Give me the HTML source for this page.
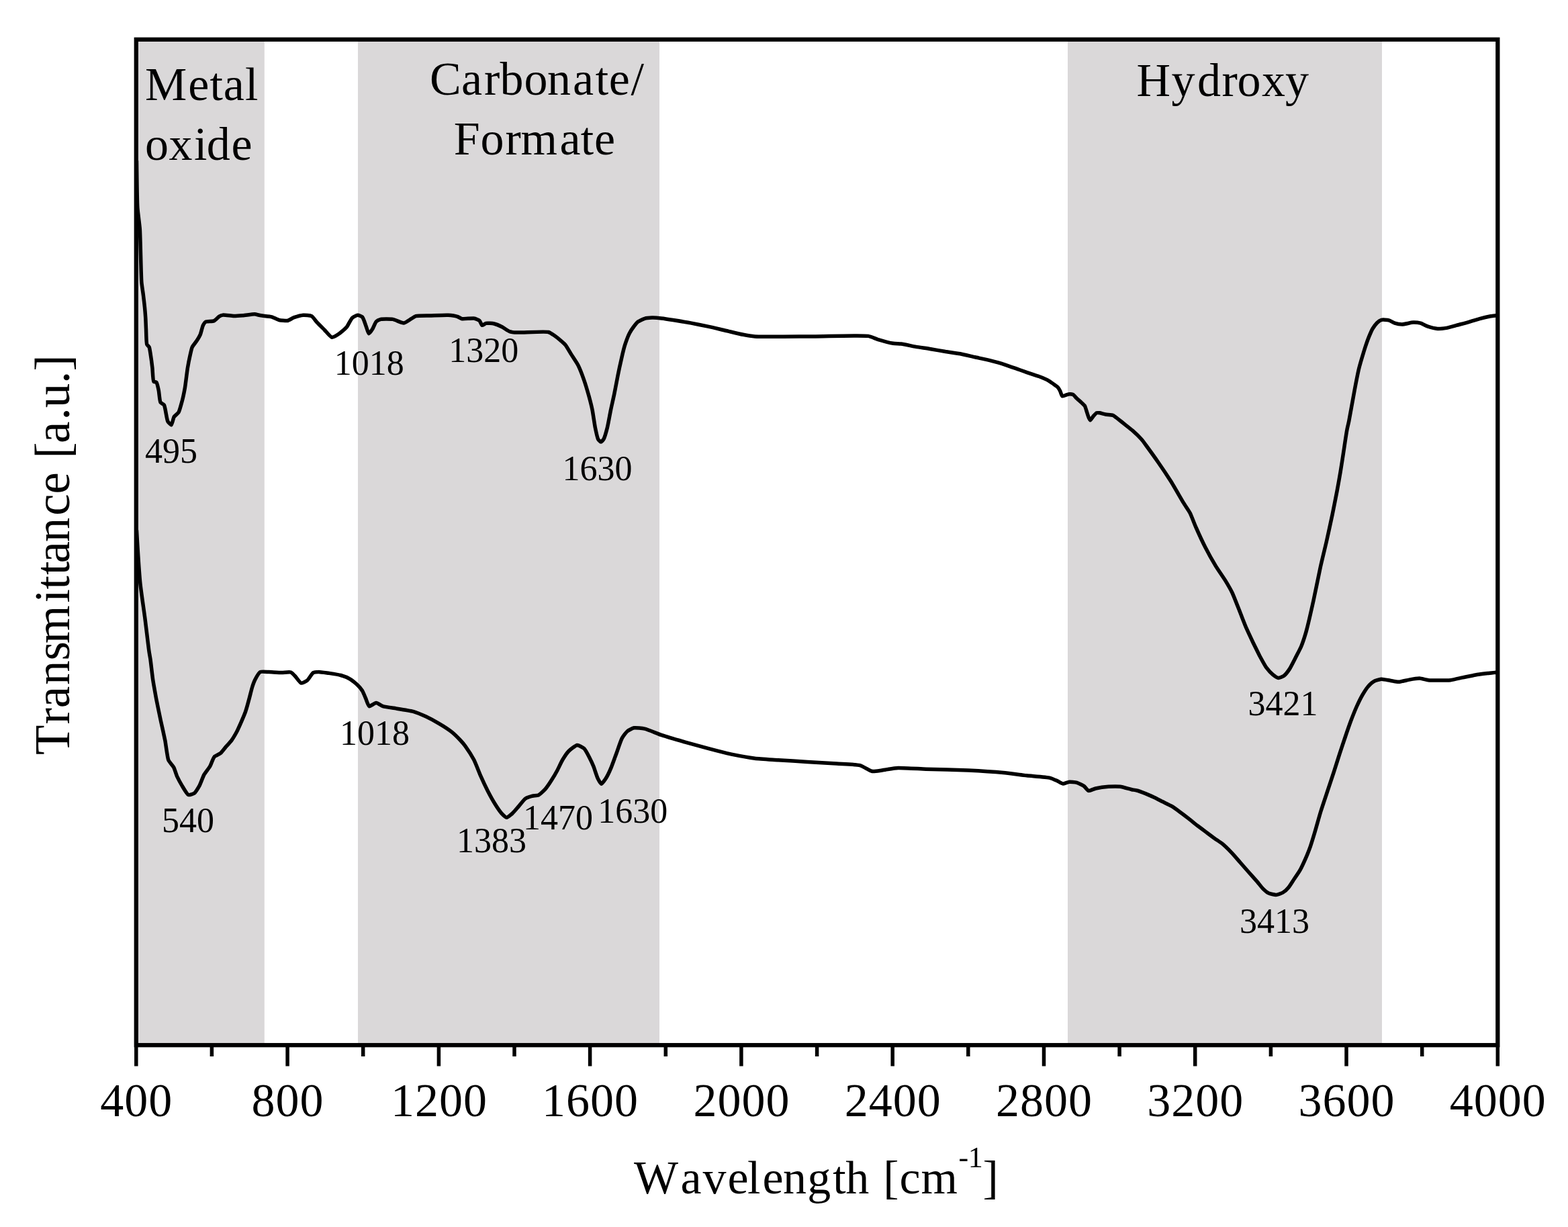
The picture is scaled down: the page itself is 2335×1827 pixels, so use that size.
<!DOCTYPE html>
<html><head><meta charset="utf-8"><title>FTIR spectra</title>
<style>html,body{margin:0;padding:0;background:#fff;width:2335px;height:1827px;overflow:hidden}svg{display:block}</style>
</head><body>
<svg xmlns="http://www.w3.org/2000/svg" width="2335" height="1827" viewBox="0 0 2335 1827">
<rect width="2335" height="1827" fill="#fff"/>
<rect x="206.0" y="58.8" width="187.8" height="1497.4" fill="#dad8d9"/>
<rect x="533.0" y="58.8" width="449.0" height="1497.4" fill="#dad8d9"/>
<rect x="1590.0" y="58.8" width="468.0" height="1497.4" fill="#dad8d9"/>
<path d="M202.8,1556.2V1587.5M315.4,1556.2V1573.0M428.1,1556.2V1587.5M540.7,1556.2V1573.0M653.4,1556.2V1587.5M766.0,1556.2V1573.0M878.6,1556.2V1587.5M991.3,1556.2V1573.0M1103.9,1556.2V1587.5M1216.6,1556.2V1573.0M1329.2,1556.2V1587.5M1441.8,1556.2V1573.0M1554.5,1556.2V1587.5M1667.1,1556.2V1573.0M1779.7,1556.2V1587.5M1892.4,1556.2V1573.0M2005.0,1556.2V1587.5M2117.7,1556.2V1573.0M2230.3,1556.2V1587.5" stroke="#000" stroke-width="5.5" fill="none"/>
<path d="M203.5,240.0 C203.7,252.7 204.1,298.8 204.8,309.0 C205.2,316.0 207.8,333.8 208.3,341.0 C209.1,352.3 210.0,410.3 210.8,420.0 C211.2,424.9 213.1,436.6 213.5,440.2 C213.9,443.5 215.2,454.6 215.5,457.7 C215.8,460.7 216.6,470.9 216.8,473.9 C217.0,476.9 217.3,486.8 217.5,490.0 C217.7,493.8 217.8,510.5 218.8,512.9 C219.3,514.0 221.7,515.9 222.2,516.9 C222.9,518.3 223.8,525.4 224.2,527.7 C224.7,530.8 226.5,544.2 226.9,547.9 C227.3,551.6 227.7,566.6 228.9,568.1 C229.5,568.8 232.4,568.8 233.0,569.4 C234.0,570.5 235.8,579.1 236.3,581.5 C236.9,584.4 237.8,597.1 239.0,599.1 C239.7,600.3 243.6,601.8 244.4,603.1 C246.0,605.5 248.3,624.6 249.8,627.3 C250.6,628.8 254.4,632.9 255.2,632.7 C256.2,632.5 258.1,622.4 259.2,620.6 C260.2,619.1 265.0,615.6 266.0,613.9 C267.4,611.6 270.5,599.7 271.4,596.4 C272.3,593.0 274.7,581.4 275.4,577.5 C276.2,572.7 278.6,552.6 279.4,547.9 C280.0,544.3 282.1,533.4 282.8,530.4 C283.4,527.8 285.2,519.1 286.2,516.9 C287.1,514.9 291.8,509.3 292.9,507.5 C294.0,505.8 297.5,500.0 298.3,498.1 C299.2,495.9 301.4,486.5 302.3,484.6 C303.0,483.3 305.3,479.8 306.4,479.2 C307.9,478.3 316.6,478.7 318.5,477.9 C320.2,477.2 325.1,472.0 326.5,471.2 C327.5,470.6 330.6,469.3 331.9,469.1 C334.0,468.8 345.3,470.5 348.1,470.5 C350.7,470.5 359.0,470.0 361.6,469.8 C364.6,469.6 376.4,467.7 379.1,467.8 C381.1,467.9 386.5,469.5 388.5,469.8 C391.0,470.2 402.0,471.1 404.6,471.8 C406.8,472.4 413.3,476.0 415.4,476.5 C417.6,477.0 426.1,477.9 428.2,477.5 C430.2,477.1 435.9,473.4 437.9,472.7 C440.2,471.9 449.1,469.4 451.6,469.2 C453.9,469.0 462.1,469.6 464.0,470.6 C465.9,471.6 470.5,478.4 472.2,480.2 C474.0,482.2 481.2,489.2 483.2,491.2 C485.2,493.2 492.1,501.9 494.2,502.2 C496.1,502.5 503.3,498.0 505.2,496.7 C507.3,495.3 514.5,489.2 516.2,487.1 C518.0,484.9 522.6,475.1 524.4,473.4 C525.8,472.1 531.2,469.3 532.7,469.2 C534.0,469.1 538.6,471.0 539.6,472.0 C541.1,473.5 544.2,483.3 545.1,485.7 C545.9,487.8 548.2,496.5 549.2,496.7 C550.0,496.8 553.8,491.4 554.7,489.9 C555.8,488.2 558.9,480.2 560.2,478.9 C561.2,477.8 565.4,475.8 567.0,475.4 C569.5,474.8 581.7,474.9 584.9,475.4 C588.0,475.9 598.7,481.2 601.4,480.9 C603.7,480.7 610.6,475.7 612.4,474.7 C613.8,473.9 617.6,471.1 619.3,470.6 C622.0,469.8 635.9,470.0 639.9,469.9 C644.6,469.8 663.2,468.9 667.4,469.2 C670.4,469.4 679.1,470.7 681.1,471.3 C682.6,471.8 686.4,474.4 688.0,474.7 C690.5,475.2 703.2,473.5 705.8,474.0 C707.7,474.3 713.0,476.5 714.1,477.5 C715.1,478.4 717.0,484.1 717.9,484.4 C718.8,484.7 722.5,481.7 723.8,481.4 C725.6,481.0 733.6,481.5 735.7,482.0 C737.9,482.5 745.5,485.7 747.6,486.8 C749.8,487.9 757.3,493.2 759.6,493.9 C761.7,494.6 768.6,495.0 771.5,495.1 C777.1,495.3 811.8,493.2 816.7,494.5 C819.0,495.1 823.5,498.2 825.1,499.3 C827.1,500.7 835.3,507.3 837.0,508.8 C838.2,509.8 841.1,512.5 842.1,513.7 C843.6,515.5 848.9,524.8 850.5,527.4 C852.3,530.3 859.4,540.9 861.1,544.2 C862.9,547.8 868.1,561.3 869.5,565.3 C871.0,569.6 875.7,585.2 876.9,589.5 C878.0,593.5 881.3,606.5 882.1,610.6 C883.0,615.2 885.5,632.7 886.4,637.0 C887.1,640.4 889.5,651.8 890.6,653.8 C891.3,655.0 894.0,658.0 894.8,658.0 C895.6,658.0 898.3,654.9 899.0,653.8 C900.2,651.8 903.4,640.5 904.3,637.0 C905.4,632.7 908.5,615.3 909.5,610.6 C910.4,606.1 913.9,591.0 914.8,586.4 C915.8,581.5 919.1,563.9 920.1,559.0 C921.0,554.4 924.3,539.1 925.3,534.8 C926.2,530.8 929.4,517.4 930.6,513.7 C931.7,510.3 936.1,498.7 937.5,496.0 C938.6,493.8 942.8,487.6 944.0,486.0 C945.1,484.6 948.7,480.1 950.1,479.1 C951.6,478.0 958.1,474.8 960.0,474.3 C961.9,473.8 968.8,473.2 970.9,473.1 C973.3,473.0 982.1,473.6 984.8,473.9 C987.8,474.2 998.7,475.9 1002.2,476.5 C1006.5,477.2 1023.5,480.0 1028.3,480.9 C1033.1,481.8 1049.6,485.1 1054.4,486.1 C1059.2,487.1 1075.7,491.1 1080.5,492.2 C1085.3,493.3 1102.4,497.5 1106.7,498.3 C1110.2,499.0 1119.7,500.6 1124.1,500.9 C1133.9,501.6 1195.4,500.9 1211.1,500.9 C1226.3,500.9 1284.2,498.9 1292.9,500.4 C1296.6,501.0 1303.9,504.4 1306.8,505.3 C1310.5,506.4 1326.4,510.7 1330.0,511.3 C1332.5,511.7 1339.5,511.7 1342.0,512.0 C1345.4,512.4 1360.0,515.7 1364.0,516.4 C1368.0,517.1 1382.0,519.0 1386.0,519.7 C1390.0,520.4 1404.0,522.8 1408.0,523.5 C1412.0,524.1 1425.9,526.0 1429.9,526.8 C1433.9,527.6 1447.9,530.9 1451.9,531.8 C1455.9,532.7 1469.9,535.7 1473.9,536.7 C1477.9,537.7 1491.9,541.5 1495.9,542.8 C1500.0,544.1 1513.9,549.1 1517.9,550.5 C1521.9,551.9 1536.9,557.2 1539.9,558.2 C1541.6,558.8 1546.0,560.0 1547.3,560.5 C1548.7,561.0 1553.4,562.9 1554.7,563.5 C1556.1,564.1 1560.7,566.3 1562.0,567.1 C1563.4,567.9 1568.0,571.3 1569.3,572.2 C1570.4,573.0 1574.3,575.6 1575.2,576.6 C1576.1,577.5 1578.2,581.3 1578.8,582.5 C1579.4,583.7 1580.9,589.4 1581.8,589.8 C1582.5,590.2 1586.0,588.7 1586.9,588.4 C1587.7,588.1 1590.4,587.0 1591.3,586.9 C1592.4,586.8 1596.8,587.1 1597.9,587.6 C1599.0,588.1 1602.0,591.8 1603.0,592.8 C1604.1,593.9 1608.4,597.5 1609.6,598.6 C1610.7,599.7 1614.7,603.2 1615.5,604.5 C1616.3,605.9 1617.9,611.7 1618.4,613.3 C1618.9,614.9 1620.8,620.9 1621.4,622.1 C1621.8,622.9 1623.1,625.8 1623.6,625.8 C1624.2,625.8 1627.1,620.9 1628.0,619.9 C1628.9,618.9 1632.1,615.2 1633.1,614.8 C1633.9,614.5 1636.6,614.7 1637.5,614.8 C1638.8,615.0 1644.6,616.7 1646.3,617.0 C1648.2,617.4 1655.6,617.7 1657.3,618.4 C1658.9,619.0 1663.1,622.5 1664.6,623.6 C1666.4,625.0 1673.6,630.7 1675.6,632.3 C1677.6,633.9 1684.5,639.3 1686.6,641.1 C1689.0,643.2 1698.1,652.1 1700.0,654.3 C1701.4,655.9 1704.8,660.6 1706.2,662.5 C1708.7,665.9 1721.6,683.8 1725.0,688.7 C1728.5,693.7 1740.3,711.4 1743.7,716.8 C1747.2,722.4 1759.5,743.9 1762.4,748.7 C1764.4,752.0 1770.6,760.9 1772.2,764.0 C1774.0,767.5 1779.2,781.3 1781.1,785.5 C1783.3,790.5 1792.1,809.5 1794.8,814.8 C1797.5,820.1 1807.7,838.4 1810.6,843.2 C1813.3,847.6 1823.0,861.6 1825.3,865.4 C1827.3,868.7 1833.2,878.9 1834.9,882.5 C1837.1,887.0 1844.4,906.1 1846.4,911.1 C1848.3,915.8 1854.3,931.4 1856.2,935.7 C1858.0,939.8 1864.3,953.2 1866.1,957.0 C1867.9,960.7 1874.1,973.2 1875.9,976.7 C1877.7,980.0 1883.7,991.2 1885.7,993.9 C1887.4,996.2 1893.8,1003.1 1895.6,1004.6 C1897.1,1005.8 1902.3,1009.4 1903.8,1009.5 C1905.3,1009.6 1910.6,1007.2 1912.0,1006.2 C1913.7,1005.0 1918.8,998.5 1920.2,996.4 C1921.8,994.0 1926.9,983.9 1928.4,981.0 C1930.0,977.8 1936.1,966.2 1937.5,963.0 C1938.7,960.2 1941.9,950.9 1942.7,948.4 C1943.4,946.2 1945.3,939.8 1946.0,937.0 C1947.4,931.7 1954.0,903.1 1955.8,895.0 C1957.8,886.1 1964.5,852.6 1966.4,844.0 C1968.0,836.7 1973.6,813.9 1975.2,807.0 C1976.8,799.8 1982.5,773.8 1984.0,766.6 C1985.4,759.9 1989.8,737.6 1991.0,731.4 C1992.1,725.7 1995.4,707.1 1996.3,701.5 C1997.3,695.6 2000.6,674.0 2001.5,668.1 C2002.3,662.7 2005.1,644.1 2005.9,640.0 C2006.4,637.2 2008.1,630.4 2008.7,627.4 C2009.8,622.0 2014.8,593.6 2016.2,586.2 C2017.5,579.2 2022.1,555.3 2023.7,548.7 C2025.2,542.6 2031.5,521.8 2033.0,517.0 C2034.1,513.7 2037.4,504.2 2038.5,501.6 C2039.5,499.2 2042.8,491.5 2044.0,489.5 C2045.1,487.7 2049.3,482.0 2050.6,480.7 C2051.7,479.6 2055.8,476.7 2057.2,476.3 C2058.9,475.8 2066.3,476.3 2068.2,476.8 C2070.0,477.3 2075.2,480.6 2077.0,481.2 C2078.9,481.8 2085.8,482.9 2088.0,482.9 C2090.7,482.9 2101.7,480.2 2104.4,480.1 C2106.6,480.0 2113.4,480.7 2115.4,481.2 C2117.5,481.8 2124.2,485.5 2126.4,486.2 C2128.8,487.0 2138.1,489.3 2140.7,489.5 C2143.2,489.7 2151.4,488.8 2153.9,488.4 C2156.8,487.9 2167.4,484.8 2170.4,484.0 C2173.4,483.2 2183.9,480.5 2186.9,479.6 C2189.9,478.7 2200.4,475.4 2203.4,474.6 C2206.4,473.8 2217.3,471.3 2219.9,470.8 C2221.8,470.5 2227.1,469.9 2228.7,469.7" stroke="#000" stroke-width="5.5" fill="none" stroke-linejoin="round" stroke-linecap="round"/>
<path d="M203.5,790.0 C203.8,795.2 204.8,812.6 205.2,818.6 C205.7,826.7 208.0,860.7 209.0,870.1 C210.0,879.6 214.8,912.3 216.0,921.6 C217.2,930.6 221.1,964.1 222.0,970.0 C222.4,972.9 223.6,979.3 224.0,982.0 C224.6,986.3 226.9,1006.7 227.7,1012.2 C228.5,1017.7 231.9,1036.3 232.9,1041.8 C234.0,1047.4 238.1,1067.1 239.3,1072.7 C240.5,1078.2 244.7,1096.9 245.8,1102.3 C246.9,1107.7 249.2,1128.1 250.9,1132.0 C252.0,1134.5 257.4,1140.2 258.6,1142.3 C259.9,1144.6 262.6,1153.9 263.8,1156.4 C265.0,1159.0 270.0,1168.1 271.5,1170.6 C273.0,1173.1 278.6,1182.8 280.5,1183.5 C282.0,1184.0 288.1,1181.9 289.5,1180.9 C291.3,1179.6 296.0,1171.6 297.3,1169.3 C298.7,1166.7 302.3,1156.5 303.7,1153.9 C305.1,1151.3 311.3,1143.5 312.7,1141.0 C314.1,1138.5 317.5,1128.6 319.2,1126.8 C320.5,1125.3 326.7,1122.9 328.2,1121.7 C329.8,1120.4 334.4,1114.3 335.9,1112.6 C337.5,1110.8 343.4,1104.4 344.9,1102.3 C346.5,1100.1 351.3,1091.9 352.6,1089.5 C353.9,1087.0 357.9,1078.0 359.1,1075.3 C360.3,1072.5 364.5,1062.8 365.5,1059.8 C366.6,1056.7 369.8,1045.2 370.7,1041.8 C371.7,1038.3 374.8,1025.5 375.8,1022.5 C376.5,1020.3 378.7,1014.1 379.7,1012.2 C380.8,1010.1 385.5,1001.6 387.4,1000.6 C389.3,999.6 397.7,1000.5 400.3,1000.6 C403.5,1000.7 416.4,1001.5 419.6,1001.5 C422.3,1001.5 431.2,1000.3 433.1,1001.0 C434.6,1001.6 438.3,1005.5 439.5,1006.8 C441.1,1008.4 446.7,1016.7 448.5,1017.1 C450.0,1017.4 456.0,1014.4 457.5,1013.2 C459.3,1011.8 464.6,1002.8 466.4,1001.7 C467.7,1000.9 472.4,1000.4 474.1,1000.4 C476.4,1000.3 486.6,1001.9 489.5,1002.3 C492.7,1002.8 504.4,1004.6 507.5,1005.5 C510.3,1006.3 519.3,1009.9 521.6,1011.3 C523.7,1012.6 530.2,1018.0 531.9,1019.6 C533.5,1021.1 538.4,1026.8 539.6,1028.6 C540.8,1030.5 543.8,1038.1 544.7,1040.2 C545.6,1042.3 548.3,1051.2 549.8,1051.7 C551.2,1052.2 558.2,1046.6 560.1,1046.6 C562.0,1046.6 568.1,1051.0 570.3,1051.7 C573.2,1052.6 585.8,1054.3 589.6,1054.9 C594.0,1055.6 610.9,1058.2 615.2,1059.4 C619.0,1060.5 631.0,1065.5 634.5,1067.1 C638.1,1068.8 650.2,1075.3 653.7,1077.4 C657.3,1079.5 669.9,1087.7 673.0,1090.2 C675.7,1092.4 683.8,1100.4 685.8,1102.5 C687.3,1104.1 691.4,1108.9 692.8,1110.8 C694.9,1113.7 703.6,1127.3 705.7,1131.3 C707.9,1135.5 714.0,1151.4 715.9,1155.7 C717.7,1159.8 724.2,1173.6 726.2,1177.5 C728.2,1181.4 735.6,1194.7 737.7,1198.0 C739.4,1200.7 745.0,1208.9 746.7,1210.8 C748.1,1212.3 752.9,1217.1 754.4,1217.2 C756.0,1217.3 761.8,1212.2 763.4,1210.8 C765.1,1209.2 770.7,1202.5 772.4,1200.6 C774.2,1198.5 780.5,1190.4 782.6,1189.0 C784.3,1187.8 791.1,1185.7 792.9,1185.2 C794.6,1184.8 800.3,1184.6 801.9,1183.9 C803.9,1183.0 810.4,1176.8 812.1,1174.9 C813.9,1172.9 819.5,1164.6 821.1,1162.1 C822.8,1159.4 828.6,1149.5 830.1,1146.7 C831.6,1143.9 836.2,1133.9 837.8,1131.3 C839.3,1128.8 844.8,1120.5 846.8,1118.5 C848.8,1116.5 857.3,1109.7 859.6,1109.5 C861.5,1109.4 868.2,1113.1 869.8,1114.6 C871.6,1116.3 876.2,1125.0 877.5,1127.5 C878.8,1130.0 882.9,1138.8 884.0,1141.6 C885.2,1144.7 889.1,1157.0 890.4,1159.5 C891.3,1161.3 894.5,1167.1 895.5,1167.2 C896.6,1167.3 900.8,1161.2 901.9,1159.5 C903.4,1157.2 908.3,1147.2 909.6,1144.1 C911.1,1140.6 915.8,1127.5 917.3,1123.6 C918.9,1119.3 924.4,1102.6 926.3,1099.2 C927.6,1096.8 932.3,1090.4 934.0,1089.0 C935.6,1087.6 942.1,1084.2 944.2,1083.8 C946.7,1083.3 956.8,1084.4 960.0,1085.1 C964.1,1086.0 979.8,1092.7 984.8,1094.4 C990.6,1096.4 1013.2,1103.0 1019.6,1104.8 C1026.0,1106.6 1048.0,1112.7 1054.4,1114.4 C1060.8,1116.1 1082.9,1121.7 1089.3,1123.1 C1095.7,1124.4 1117.7,1128.4 1124.1,1129.2 C1130.5,1130.0 1152.2,1131.3 1158.9,1131.8 C1166.4,1132.3 1194.4,1133.9 1202.4,1134.4 C1210.4,1134.9 1238.4,1136.5 1245.9,1137.0 C1252.6,1137.5 1275.5,1138.2 1280.7,1139.6 C1284.6,1140.7 1295.1,1147.7 1298.1,1148.3 C1300.5,1148.8 1308.1,1147.8 1310.3,1147.5 C1312.5,1147.2 1319.7,1145.8 1322.0,1145.5 C1324.6,1145.1 1333.9,1143.7 1337.4,1143.5 C1343.2,1143.2 1370.8,1144.9 1379.2,1145.2 C1389.5,1145.6 1430.8,1146.5 1441.8,1147.0 C1451.8,1147.5 1485.5,1149.7 1494.1,1150.5 C1501.1,1151.2 1522.5,1154.1 1528.9,1154.8 C1535.3,1155.5 1559.2,1157.2 1563.7,1158.3 C1566.2,1158.9 1572.3,1161.8 1574.1,1162.6 C1575.8,1163.4 1581.2,1166.9 1582.8,1167.0 C1584.4,1167.1 1589.8,1164.6 1591.5,1164.4 C1593.5,1164.2 1601.6,1164.7 1603.7,1165.3 C1605.8,1165.9 1612.6,1169.3 1614.2,1170.5 C1615.7,1171.6 1619.6,1177.0 1621.1,1177.4 C1622.7,1177.8 1629.4,1174.5 1631.6,1174.0 C1634.6,1173.3 1647.3,1171.5 1650.7,1171.3 C1654.0,1171.1 1664.9,1170.9 1668.1,1171.3 C1671.3,1171.7 1683.0,1175.2 1685.5,1175.7 C1687.1,1176.0 1691.4,1176.6 1692.9,1177.0 C1695.0,1177.5 1703.5,1180.7 1705.8,1181.6 C1708.2,1182.5 1716.3,1186.2 1718.6,1187.3 C1721.0,1188.4 1729.1,1192.6 1731.5,1193.8 C1733.9,1195.0 1742.1,1198.8 1744.4,1200.2 C1746.8,1201.6 1755.0,1207.5 1757.3,1209.2 C1759.7,1210.9 1767.8,1217.1 1770.1,1218.9 C1772.5,1220.7 1780.6,1227.4 1783.0,1229.2 C1785.4,1231.0 1793.5,1237.1 1795.9,1238.9 C1798.3,1240.7 1806.5,1246.9 1808.8,1248.5 C1810.9,1250.0 1817.9,1254.5 1820.0,1256.2 C1822.5,1258.2 1831.5,1267.0 1834.0,1269.6 C1836.4,1272.1 1844.4,1281.4 1846.7,1284.0 C1849.0,1286.7 1857.1,1295.9 1859.4,1298.5 C1861.7,1301.1 1870.1,1310.5 1872.2,1312.9 C1873.9,1314.9 1879.0,1321.5 1880.6,1323.1 C1882.1,1324.6 1887.3,1329.0 1889.1,1329.9 C1890.9,1330.8 1898.2,1332.5 1900.2,1332.4 C1902.1,1332.3 1908.7,1330.0 1910.4,1329.0 C1912.1,1328.0 1917.4,1323.1 1918.8,1321.4 C1920.5,1319.5 1925.7,1311.0 1927.3,1308.7 C1928.9,1306.4 1934.3,1298.5 1935.8,1295.9 C1937.5,1293.0 1942.9,1281.3 1944.3,1278.1 C1945.7,1275.0 1949.9,1264.4 1951.1,1261.1 C1952.4,1257.5 1956.4,1244.3 1957.7,1240.0 C1959.3,1234.8 1965.1,1213.7 1966.9,1208.0 C1968.6,1202.5 1974.9,1183.8 1976.7,1178.4 C1978.5,1173.0 1984.8,1154.2 1986.5,1148.9 C1988.1,1143.9 1993.4,1127.0 1995.0,1122.2 C1996.5,1117.5 2001.8,1101.6 2003.4,1097.0 C2004.9,1092.6 2010.2,1077.3 2011.8,1073.1 C2013.3,1069.1 2018.7,1055.6 2020.3,1052.0 C2021.8,1048.7 2027.1,1037.9 2028.7,1035.1 C2030.2,1032.6 2035.4,1024.4 2037.1,1022.5 C2038.5,1020.8 2043.7,1015.8 2045.5,1014.8 C2047.3,1013.7 2054.6,1011.4 2056.8,1011.2 C2059.1,1011.0 2067.6,1012.9 2070.0,1013.3 C2072.4,1013.7 2080.6,1015.4 2083.1,1015.3 C2085.8,1015.2 2095.7,1012.6 2098.5,1012.1 C2101.3,1011.6 2111.2,1010.0 2113.9,1010.1 C2116.4,1010.2 2123.9,1012.4 2126.8,1012.7 C2131.5,1013.2 2155.0,1013.2 2160.1,1012.7 C2163.9,1012.3 2174.7,1009.6 2178.1,1008.9 C2181.6,1008.2 2193.8,1005.6 2197.3,1005.0 C2200.8,1004.4 2213.4,1002.8 2216.5,1002.4 C2218.9,1002.1 2226.0,1001.4 2228.1,1001.2" stroke="#000" stroke-width="5.5" fill="none" stroke-linejoin="round" stroke-linecap="round"/>
<rect x="202.8" y="58.8" width="2027.5" height="1497.4" fill="none" stroke="#000" stroke-width="6.3"/>
<text x="203.3" y="1662" font-size="70" letter-spacing="1" text-anchor="middle" font-family="Liberation Serif, Times New Roman, serif">400</text>
<text x="428.6" y="1662" font-size="70" letter-spacing="1" text-anchor="middle" font-family="Liberation Serif, Times New Roman, serif">800</text>
<text x="653.9" y="1662" font-size="70" letter-spacing="1" text-anchor="middle" font-family="Liberation Serif, Times New Roman, serif">1200</text>
<text x="879.1" y="1662" font-size="70" letter-spacing="1" text-anchor="middle" font-family="Liberation Serif, Times New Roman, serif">1600</text>
<text x="1104.4" y="1662" font-size="70" letter-spacing="1" text-anchor="middle" font-family="Liberation Serif, Times New Roman, serif">2000</text>
<text x="1329.7" y="1662" font-size="70" letter-spacing="1" text-anchor="middle" font-family="Liberation Serif, Times New Roman, serif">2400</text>
<text x="1555.0" y="1662" font-size="70" letter-spacing="1" text-anchor="middle" font-family="Liberation Serif, Times New Roman, serif">2800</text>
<text x="1780.2" y="1662" font-size="70" letter-spacing="1" text-anchor="middle" font-family="Liberation Serif, Times New Roman, serif">3200</text>
<text x="2005.5" y="1662" font-size="70" letter-spacing="1" text-anchor="middle" font-family="Liberation Serif, Times New Roman, serif">3600</text>
<text x="2230.8" y="1662" font-size="70" letter-spacing="1" text-anchor="middle" font-family="Liberation Serif, Times New Roman, serif">4000</text>
<text x="215.9 280.3 312.5 332.8 365.1" y="148.5" font-size="70" font-family="Liberation Serif, Times New Roman, serif">Metal</text>
<text x="215.9 251.6 289.0 307.8 344.6" y="238.4" font-size="70" font-family="Liberation Serif, Times New Roman, serif">oxide</text>
<text x="640.1 687.1 721.0 744.5 780.5 814.9 852.9 886.8 906.8 939.6" y="140.5" font-size="70" font-family="Liberation Serif, Times New Roman, serif">Carbonate/</text>
<text x="675.8 715.6 752.4 775.4 833.6 864.7 885.1" y="230.4" font-size="70" font-family="Liberation Serif, Times New Roman, serif">Formate</text>
<text x="1692.5 1744.5 1783.0 1819.5 1842.5 1879.1 1914.0" y="143.1" font-size="70" font-family="Liberation Serif, Times New Roman, serif">Hydroxy</text>
<text x="216.0" y="688.8" font-size="52" font-family="Liberation Serif, Times New Roman, serif">495</text>
<text x="497.8" y="558.2" font-size="52" font-family="Liberation Serif, Times New Roman, serif">1018</text>
<text x="668.2" y="539.0" font-size="52" font-family="Liberation Serif, Times New Roman, serif">1320</text>
<text x="837.4" y="714.9" font-size="52" font-family="Liberation Serif, Times New Roman, serif">1630</text>
<text x="1858.5" y="1064.7" font-size="52" font-family="Liberation Serif, Times New Roman, serif">3421</text>
<text x="241.0" y="1239.4" font-size="52" font-family="Liberation Serif, Times New Roman, serif">540</text>
<text x="505.9" y="1108.6" font-size="52" font-family="Liberation Serif, Times New Roman, serif">1018</text>
<text x="680.0" y="1268.6" font-size="52" font-family="Liberation Serif, Times New Roman, serif">1383</text>
<text x="779.0" y="1235.4" font-size="52" font-family="Liberation Serif, Times New Roman, serif">1470</text>
<text x="890.2" y="1225.3" font-size="52" font-family="Liberation Serif, Times New Roman, serif">1630</text>
<text x="1846.1" y="1389.3" font-size="52" font-family="Liberation Serif, Times New Roman, serif">3413</text>
<text x="944.1 1013.5 1046.4 1083.5 1113.1 1135.6 1166.0 1202.3 1240.2 1259.2 1294.2 1315.2 1339.4 1371.5" y="1776.5" font-size="70" font-family="Liberation Serif, Times New Roman, serif">Wavelength [cm</text>
<text x="1427.4 1441.8" y="1737.6" font-size="44" font-family="Liberation Serif, Times New Roman, serif">-1</text>
<text x="1463.5" y="1776.5" font-size="70" font-family="Liberation Serif, Times New Roman, serif">]</text>
<text transform="translate(102.7,1130.0) rotate(-90)" x="6.1 51.6 75.8 110.1 146.4 171.7 232.6 252.6 273.9 291.5 322.8 362.2 394.6 427.0 447.2 470.1 504.4 522.7 559.1 577.3" y="0" font-size="73" font-family="Liberation Serif, Times New Roman, serif">Transmittance [a.u.]</text>
</svg>
</body></html>
